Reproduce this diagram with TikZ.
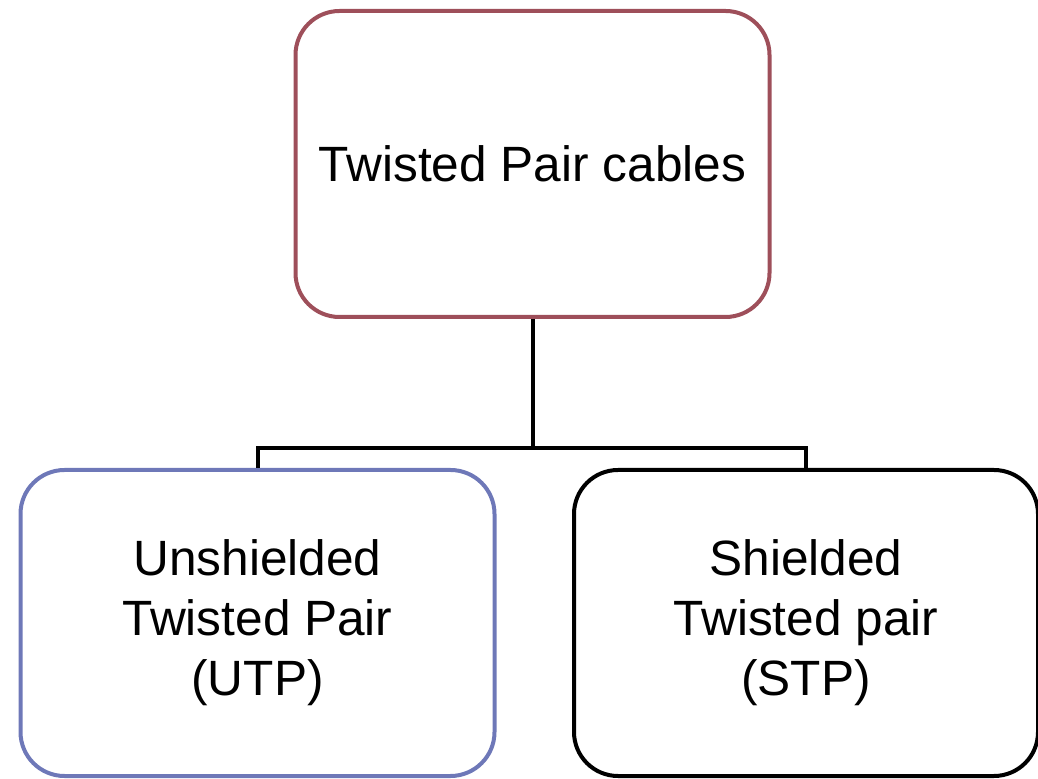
\documentclass[tikz,border=0pt]{standalone}
\usepackage{fontspec}
\setmainfont{Liberation Sans}
\usepackage{tikz}
\usetikzlibrary{calc}
\definecolor{toprim}{HTML}{9E4F5A}
\definecolor{utprim}{HTML}{6E78B8}
\tikzset{
  cablebox/.style={draw, line width=2pt, rounded corners=22pt, align=center,
    minimum width=237pt, minimum height=153pt,
    font=\fontsize{24.8}{30}\selectfont},
  link/.style={draw, line width=2pt}
}
\begin{document}
\begin{tikzpicture}[x=0.5pt,y=-0.5pt]
\useasboundingbox (0,0) rectangle (1038,779);
\node[cablebox, draw=toprim] (twisted) at (532.5,164) {Twisted Pair cables};
\node[cablebox, draw=utprim] (utp) at (257.5,623) {Unshielded\\Twisted Pair\\(UTP)};
\node[cablebox, draw=black, minimum width=232pt] (stp) at (806,623) {Shielded\\Twisted pair\\(STP)};
\coordinate (bus) at (0,448);
\draw[link] (twisted.south) -- (twisted.south |- bus);
\draw[link] (utp.north) -- (utp.north |- bus) -- (stp.north |- bus) -- (stp.north);
\end{tikzpicture}
\end{document}
